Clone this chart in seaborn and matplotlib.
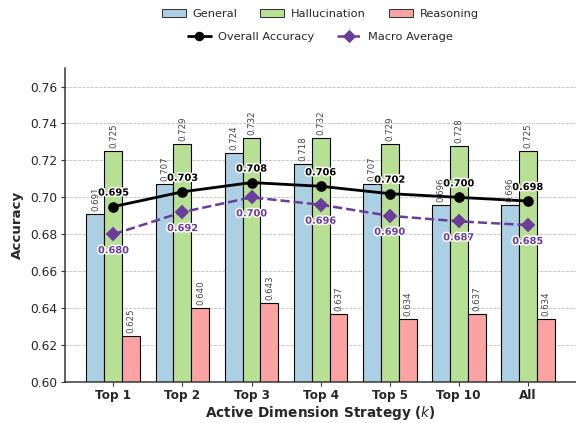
import matplotlib
matplotlib.use("Agg")
import matplotlib.pyplot as plt
import matplotlib.patheffects as pe
from matplotlib.patches import Patch
from matplotlib.lines import Line2D
import seaborn as sns
import pandas as pd

strategies = ["Top 1", "Top 2", "Top 3", "Top 4", "Top 5", "Top 10", "All"]
general = [0.691, 0.707, 0.724, 0.718, 0.707, 0.696, 0.696]
hallucination = [0.725, 0.729, 0.732, 0.732, 0.729, 0.728, 0.725]
reasoning = [0.625, 0.640, 0.643, 0.637, 0.634, 0.637, 0.634]
overall = [0.695, 0.703, 0.708, 0.706, 0.702, 0.700, 0.698]
macro = [0.680, 0.692, 0.700, 0.696, 0.690, 0.687, 0.685]

metrics = ["General", "Hallucination", "Reasoning"]
colors = ["#abd0e3", "#b8e094", "#fba3a3"]
purple = "#6a3d9a"

sns.set_theme(style="white")
plt.rcParams["font.family"] = ["DejaVu Sans"]

df = pd.DataFrame({
    "Strategy": strategies * 3,
    "Accuracy": general + hallucination + reasoning,
    "Metric": [m for m in metrics for _ in strategies],
})

fig, ax = plt.subplots(figsize=(8, 5.875), dpi=72)
fig.subplots_adjust(left=0.113, right=1.0, bottom=0.097, top=0.839)

sns.barplot(data=df, x="Strategy", y="Accuracy", hue="Metric", order=strategies,
            hue_order=metrics, palette=colors, saturation=1, width=0.78,
            edgecolor="black", linewidth=1.1, ax=ax, legend=False, zorder=2)

# rotated value labels above each bar
for cont in ax.containers:
    ax.bar_label(cont, fmt="%.3f", rotation=90, padding=3, fontsize=8.6,
                 color="#444444")

sns.pointplot(x=strategies, y=overall, color="black", markers="o",
              linestyles="-", ax=ax, markersize=8.5, linewidth=2.8)
sns.pointplot(x=strategies, y=macro, color=purple, markers="D",
              linestyles="--", ax=ax, markersize=8, linewidth=2.5)

stroke = [pe.withStroke(linewidth=3, foreground="white")]
for i, v in enumerate(overall):
    ax.annotate(f"{v:.3f}", (i, v), xytext=(0, 9), textcoords="offset points",
                ha="center", va="bottom", fontsize=9.8, fontweight="bold",
                color="black", path_effects=stroke, zorder=6)
for i, v in enumerate(macro):
    ax.annotate(f"{v:.3f}", (i, v), xytext=(0, -11), textcoords="offset points",
                ha="center", va="top", fontsize=9.8, fontweight="bold",
                color=purple, path_effects=stroke, zorder=6)

ax.set_xlim(-0.7, 6.7)
ax.set_ylim(0.60, 0.77)
ax.set_yticks([0.60, 0.62, 0.64, 0.66, 0.68, 0.70, 0.72, 0.74, 0.76])
ax.yaxis.set_major_formatter(matplotlib.ticker.FormatStrFormatter("%.2f"))
ax.grid(axis="y", linestyle="--", color="#bbbbbb", linewidth=0.8, zorder=0)
ax.set_axisbelow(True)
ax.set_xlabel("Active Dimension Strategy ($k$)", fontsize=13.6, fontweight="bold",
              labelpad=2)
ax.set_ylabel("Accuracy", fontsize=13.4, fontweight="bold", labelpad=6)
for lbl in ax.get_xticklabels():
    lbl.set_fontweight("bold")
ax.tick_params(axis="x", labelsize=12, length=4, width=1.1, direction="out",
               bottom=True, color="#333333", pad=3)
ax.tick_params(axis="y", labelsize=12.3, length=4, width=1.1, direction="out",
               left=True, color="#333333")
sns.despine(ax=ax)
for s in ("left", "bottom"):
    ax.spines[s].set_color("#333333")
    ax.spines[s].set_linewidth(1.5)

bar_handles = [Patch(facecolor=c, edgecolor="#333333", label=m)
               for c, m in zip(colors, metrics)]
line_handles = [
    Line2D([0], [0], color="black", marker="o", lw=2.8, ms=8.5, label="Overall Accuracy"),
    Line2D([0], [0], color=purple, marker="D", lw=2.5, ls="--", ms=8, label="Macro Average"),
]
fig.legend(handles=bar_handles, loc="center", ncol=3, frameon=False,
           bbox_to_anchor=(0.556, 0.968), fontsize=11.4, handlelength=2.1,
           columnspacing=2.0, handletextpad=0.6)
fig.legend(handles=line_handles, loc="center", ncol=2, frameon=False,
           bbox_to_anchor=(0.556, 0.912), fontsize=11.4, handlelength=2.1,
           columnspacing=2.0, handletextpad=0.6)

fig.savefig("out.png", dpi=72)
